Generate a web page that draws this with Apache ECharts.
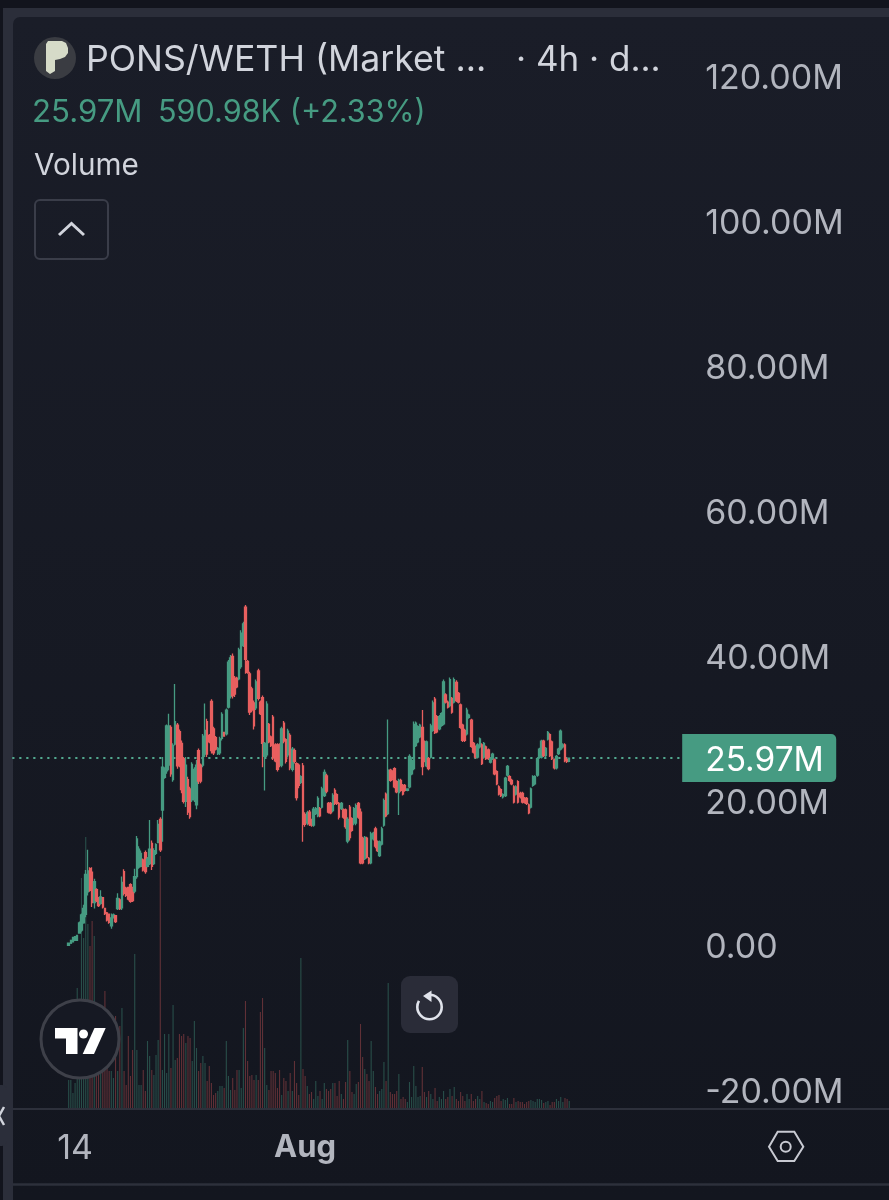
<!DOCTYPE html>
<html><head><meta charset="utf-8">
<style>html,body{margin:0;padding:0;background:#12141d}#c{width:889px;height:1200px}</style>
<script src="https://cdn.jsdelivr.net/npm/echarts@6/dist/echarts.min.js"></script>
</head><body><div id="c"></div>
<script>
const opens=[.1,.4,.6,.8,.8,1.8,2.2,3.2,4.4,7.5,10.7,10.2,6,7.8,6.6,5.9,6.7,5.2,4.6,4.4,2.8,3.9,4.2,5.2,6.4,5.3,10.3,8,8.1,8.5,8,7.6,9.6,10.9,11,11.9,12.9,11,11.4,14.2,11.4,12.8,14.3,17.5,18.8,23.3,24.2,25,30.2,23,27.9,30.5,29.6,28,25.9,20,23,21.7,20.2,20.2,19.5,27,25,25,26.5,31,29.1,33.8,30,28.8,26.6,26.7,28.7,29.5,29.3,33,34.5,40,37,37,36.9,38.6,41.5,46.8,39.3,37.6,35.5,33.6,32.9,38,33.7,34.3,26.2,26.4,30.6,28.9,31.6,27.8,27.8,27.8,25,30.8,28.5,26.4,29.1,24.4,27,25.2,25,22.6,24.9,18.2,17,18.5,17.4,16.7,18.3,18,19,19.2,20.8,23.5,19.7,19.7,18.7,21.5,20.9,19.7,19,18.8,18.8,14.5,19.2,17.6,17,17,19.7,18.5,14.9,12.1,14.9,12.1,11.5,14.8,16.2,14.4,12.5,14.1,16.7,21,18.3,24.3,24.1,24.5,22.7,21.2,22.9,22.2,22.2,21.5,22,23.8,24.5,27.7,28.2,28.9,30.2,28.2,24.9,25.9,26.1,29.8,34.1,31.7,30,30.5,30.7,34.7,33.7,33.2,34.2,33.7,36.4,34.9,33.3,30.5,29.8,29.3,31.6,31.2,28,27.5,26.1,27.5,27.8,26.1,27.5,27.1,25.4,25.9,25.7,24.1,22,21.6,20.6,20.8,23.6,23.4,22.9,22,21,22.7,21.1,21.1,20.4,20.4,19.5,19.2,22.2,22.4,23.6,26.1,26.1,28.3,26.3,28.6,29.2,28.2,25.7,24.6,26.6,27.2,27.5,27.8,25.8,25.5];
const closes=[.4,.8,1.2,1.3,1.5,3.2,4.3,5.2,9.9,10.4,7.7,6,8.9,6.3,5.6,6.8,5.4,4.5,3.6,3.3,3.9,4.3,3.4,6.6,5.2,8.8,7.3,7,6.5,6.2,6.3,9.6,14.8,13.4,12.8,10.5,10.3,12,13.4,11,13.2,14,16.8,13.3,24.7,24.5,30.4,30.4,23.8,27.7,31,24.9,25,21.6,20,25,18.5,17.9,25.1,24.4,25,22.8,22.8,29,29.8,26.5,28.2,27,26.7,27.2,27.3,28.6,32,29,32.6,39.2,39.8,34.6,34.8,35.8,40.9,43.2,44.5,39.6,37.8,32.3,32.6,30.4,36.5,34.2,32.1,28,28,33.4,28.2,27.7,26,25.6,24.4,25,30,28.3,25.5,29.7,24.6,27.2,25.5,20.5,22.2,23.4,16.8,16.8,18.4,16.9,16.7,18.9,19,20.4,18,21.7,24,21.4,18.5,18.4,20.8,19.7,19.7,17.8,19.7,17.8,16.5,17.5,15,16,19,19.4,17.8,11.5,11.5,15,12.3,11.5,15.5,15.6,13.8,13.2,14.4,16.2,20.1,18,24.3,22.9,23.1,22,21.3,22.9,21.5,21,21.5,21.7,26.2,25.6,30.6,30.8,30.3,30.5,24.8,25.6,28.2,24.5,30.4,33.6,29.5,29.6,31.7,32.1,36.5,33.7,33,36.8,32.3,36.8,33.9,33.7,30.2,28.4,28.4,32.6,31.9,27.6,26.8,26.1,27.8,28.6,25.2,28,25.9,25.9,25.9,26.5,23.8,22.4,21,20.8,20.9,23.2,24.8,22.9,22.4,19.9,22,19.9,20.6,19.9,19.9,19.7,18.4,21.7,23.4,23.4,25.9,27.2,28.3,26.3,27.3,29.5,26.3,25.9,24.6,26.2,27.2,29.7,27.8,25.6,25.5,25.97];
const highs=[.4,.8,1.3,1.4,1.5,3.4,4.5,5.7,10.5,13.3,10.9,10.9,9.3,8,6.8,7.7,6.8,5.2,4.7,4.5,4.5,4.5,4.3,7.3,6.6,9.6,10.6,8.2,8.2,8.7,8.2,10.7,15.2,13.8,13.2,12.1,13.2,12.3,17.4,14.6,13.5,14.2,17.4,17.8,26.1,24.7,30.6,32.1,30.5,28,36.2,30.8,29.9,28.4,26.1,26.1,23.4,22,25.4,24.7,25.7,27.3,25.2,29.3,33.5,31.4,29.3,34.1,30.3,29,27.5,28.9,32.3,29.6,32.8,39.5,40.2,40.4,37.3,37.2,41.2,43.6,44.8,47.1,39.5,37.9,35.8,33.9,36.8,38.3,33.9,34.6,28.2,33.8,30.8,29.1,31.9,28,28,28,30.3,31.1,28.7,30,29.4,27.5,27.3,25.4,25.2,23.6,25.3,18.5,18.7,18.8,17.6,19.2,19.2,20.7,19.2,22,24.4,23.8,19.9,19.9,21.1,21.8,21.1,19.9,19.9,19,19,17.8,19.5,17.8,19.2,19.7,19.9,19,15.1,15.2,15.1,12.3,15.8,15.8,16.5,14.6,14.6,16.5,20.4,21.2,31.3,24.5,24.3,24.7,22.9,23.1,23.1,22.4,22.4,21.8,26.5,25.9,31,31,30.5,30.7,32.6,28.4,28.4,26.1,30.7,33.9,34.4,31.9,31.9,32.3,36.8,34.9,33.9,37.1,34.4,37.1,36.7,35.1,33.5,30.7,30,32.9,32.1,31.4,28.2,27.7,28,28.8,28,28.2,27.7,27.3,26.1,26.7,25.9,24.3,22.2,21.8,21.1,23.4,25,23.6,23.1,22.2,22.2,22.9,21.3,21.3,20.6,20.6,19.7,21.9,23.6,23.6,26.1,27.4,28.5,28.5,27.5,29.7,29.4,28.4,25.9,26.4,27.4,29.9,28,28,26,26];
const lows=[.1,.4,.5,.7,.7,1.7,2,3.1,4,7,7.5,5.4,5.2,6.1,5.4,5.7,5.2,4.3,3.4,3.1,2.4,3.8,3.2,5,5,5,7,6.8,6.3,6,6.1,7.3,9.3,10.7,10.9,10.3,10,10.9,11.2,10.5,11.2,12.6,14.2,13,14.4,23.1,23.8,24.3,23.4,22.7,27.7,24.5,24.7,21.1,19.7,19.2,18.1,17.6,19.9,19.9,18.9,22.4,22.5,24.7,26.1,26.1,28,26.6,26.4,27,26.4,26.4,28.4,28.9,29.1,32.8,34.2,34.2,34.4,35.6,36.7,38.3,41.3,37.6,37.6,31.9,32.3,29.9,32.6,33.9,31.9,24.7,21.5,26.1,28,27.5,25.7,25.4,24.1,24.7,24.7,28,25.2,26.1,24.3,24.1,25.2,20.1,21.8,22.4,14.4,16.5,16.7,16.6,16.5,16.5,18.1,17.8,17.8,19,20.6,21.1,18.3,18.2,18.5,19.5,19.5,17.5,18.8,17.6,16.2,14.2,14.6,15.8,16.7,16.7,17.6,11.3,11.3,11.9,12.1,11.3,11.3,14.6,13.5,13,12.3,13.9,16.5,17.8,18.1,22.7,22.9,21.8,21.1,18.1,21.3,20.8,21.3,21.4,21.8,23.6,24.3,27.5,28,28.7,23.6,25.4,24.7,24.3,25.9,29.6,29.3,29.4,29.8,30.3,30.5,33.5,32.8,33,32.1,33.5,33.7,33.5,30,28.2,28.2,29.1,31.4,27.4,26.6,25.9,25.9,27.3,25,25.9,25.7,25.7,25.2,25.7,23.6,22.2,20.8,20.6,20.4,20.6,23.4,22.7,22.2,19.7,20.8,19.7,20.4,19.7,19.7,19.5,18.2,19,22,22.2,23.4,25.9,25.9,26.1,26.1,28.4,26.1,25.7,24.4,24.4,26.4,27,27.3,25.4,25.3,25.4];
const volumes=[28,28,15,25,120,30,230,170,271,184,162,187,172,60,40,35,40,117,40,37,37,30,92,37,82,100,
37,23,72,32,58,154,58,23,23,38,17,67,52,38,33,53,68,252,38,74,35,74,40,103,48,50,74,72,74,65,72,70,47,87,60,37,45,52,45,27,42,25,13,15,17,22,22,20,67,32,18,30,18,38,38,20,80,107,47,32,33,28,33,28,96,110,60,23,18,37,37,35,20,38,13,30,27,17,35,17,47,25,13,
150,39,32,22,14,16,9,27,12,17,9,25,19,17,19,25,25,12,27,14,9,26,68,37,16,14,24,26,84,51,39,34,27,67,37,21,14,17,19,46,27,125,16,14,14,17,34,9,11,9,6,26,11,42,22,11,12,41,16,11,17,14,9,20,7,11,9,17,9,11,19,12,21,9,7,16,12,7,14,9,14,7,9,12,9,17,6,5,4,7,6,10,12,13,7,9,8,10,4,4,10,6,7,6,6,4,6,7,8,7,6,9,9,8,5,6,7,3,6,6,9,7,11,6,10,9,7];
const yTicks=['-20.00M','0.00','20.00M','40.00M','60.00M','80.00M','100.00M','120.00M'];
const lastPrice=25.97;
const leadEmpty=26, trailEmpty=53;
const timeLabels={3:'14',111:'Aug'};

const UP='#469b82', DOWN='#e85f5f', FONT='Inter, Roboto, sans-serif';
const n=opens.length;
const cats=[];
for(let i=-leadEmpty;i<n+trailEmpty;i++) cats.push(timeLabels[i]||'');
const blanks=k=>Array(k).fill('-');
const candle=[...Array(leadEmpty).fill(['-','-','-','-']),...opens.map((o,i)=>[o,closes[i],lows[i],highs[i]])];
const vol=[...blanks(leadEmpty),...volumes.map((v,i)=>({value:v,itemStyle:{color:closes[i]>=opens[i]?'rgba(70,155,130,0.42)':'rgba(232,95,95,0.36)'}}))];

const txt=(x,y,t,size,fill,extra)=>({type:'text',z:100,x,y,style:Object.assign({text:t,font:`400 ${size}px ${FONT}`,fill,verticalAlign:'middle',align:'left'},extra||{})});
const line=(x1,y1,x2,y2,c,w)=>({type:'line',z:1,shape:{x1,y1,x2,y2},style:{stroke:c,lineWidth:w}});
const poly=(pts,st,z)=>({type:'polygon',z:z||100,shape:{points:pts},style:st});
const BAND='#2b2e3a';
const graphic=[
 {type:'rect',z:-3,shape:{x:0,y:8,width:889,height:1192},style:{fill:BAND}},
 {type:'rect',z:-3,shape:{x:0,y:8,width:3,height:1192},style:{fill:'#12141d'}},
 {type:'rect',z:-2,shape:{x:13,y:17,width:876,height:1183,r:[7,0,0,0]},style:{fill:{type:'linear',x:0,y:0,x2:0,y2:1,colorStops:[{offset:0,color:'#1a1d28'},{offset:1,color:'#13161f'}]}}},
 line(13,1109,889,1109,'#2d303b',2),
 line(13,1184.5,889,1184.5,'#2d303b',2.5),
 {type:'rect',z:5,shape:{x:-8,y:1085,width:15,height:61,r:5},style:{fill:BAND}},
 {type:'polyline',z:6,shape:{points:[[4,1107],[-1,1116],[4,1125]]},style:{stroke:'#d1d4dc',lineWidth:2.5,fill:'none'}},
 {type:'circle',z:100,shape:{cx:55,cy:58,r:21},style:{fill:'#3a3c42'}},
 poly([[46,44],[48,41],[62,41],[66,43],[68,48],[68,53],[65,57],[60,59],[55,60],[55,71],[50,74],[46,71]],{fill:'#d6dbc8'},101),
 txt(86,60,'PONS/WETH (Market ...',35.7,'#d1d4dc'),
 txt(516,60,'· 4h · d...',35,'#d1d4dc'),
 txt(32,113,'25.97M',31.2,UP),
 txt(158,113,'590.98K (+2.33%)',30.6,UP),
 txt(34,166,'Volume',29.7,'#d1d4dc'),
 {type:'rect',z:100,shape:{x:35,y:200,width:73,height:59,r:5},style:{fill:'transparent',stroke:'#3a3d49',lineWidth:2}},
 {type:'polyline',z:100,shape:{points:[[59,235],[71.5,223.5],[84,235]]},style:{stroke:'#d1d4dc',lineWidth:3,fill:'none'}},
 {type:'circle',z:100,shape:{cx:80,cy:1039,r:39},style:{fill:'#161923',stroke:'#3e4049',lineWidth:3}},
 poly([[55,1028],[77.5,1028],[77.5,1054],[66,1054],[66,1038.5],[55,1038.5]],{fill:'#fff'},101),
 {type:'circle',z:101,shape:{cx:83.5,cy:1034,r:4.5},style:{fill:'#fff'}},
 poly([[94.5,1028],[105.7,1028],[94,1054],[82.7,1054]],{fill:'#fff'},101),
 {type:'rect',z:100,shape:{x:401,y:976,width:57,height:57,r:9},style:{fill:'#2a2c38'}},
 {type:'arc',z:101,shape:{cx:429.5,cy:1007,r:12.2,startAngle:-Math.PI/2,endAngle:Math.PI*7/6,clockwise:true},style:{stroke:'#e0e3eb',lineWidth:2.6,fill:'none'}},
 poly([[423,996],[431.5,990.5],[431.5,1002]],{fill:'#e0e3eb'},102),
 poly([[769,1146.7],[777.7,1131.7],[794.3,1131.7],[803.3,1146.7],[794.3,1161],[777.7,1161]],{fill:'none',stroke:'#c8cad2',lineWidth:2}),
 {type:'circle',z:100,shape:{cx:785.7,cy:1146.7,r:5},style:{fill:'none',stroke:'#c8cad2',lineWidth:2}}
];
const gridLeft=12.25, gridW=670.95;
const chart=echarts.init(document.getElementById('c'),null,{renderer:'canvas'});
chart.setOption({
 animation:false,
 backgroundColor:'transparent',
 graphic:{elements:graphic},
 grid:[{left:gridLeft,top:77,width:gridW,height:1014},{left:gridLeft,top:827,width:gridW,height:281}],
 xAxis:[
  {type:'category',gridIndex:0,data:cats,axisLine:{show:false},axisTick:{show:false},axisLabel:{show:false},splitLine:{show:false}},
  {type:'category',gridIndex:1,data:cats,axisLine:{show:false},axisTick:{show:false},splitLine:{show:false},
   axisLabel:{interval:(i,v)=>v!=='',margin:24,formatter:v=>v==='Aug'?'{b|Aug}':'{n|'+v+'}',
    rich:{b:{fontFamily:FONT,fontWeight:700,fontSize:31,color:'#b2b5be'},n:{fontFamily:FONT,fontSize:34,color:'#b2b5be'}}}}
 ],
 yAxis:[
  {type:'value',gridIndex:0,position:'right',min:-20,max:120,interval:20,splitLine:{show:false},axisLine:{show:false},axisTick:{show:false},
   axisLabel:{margin:22,align:'left',formatter:v=>'{a|'+yTicks[(v+20)/20]+'}',
    rich:{a:{color:'#b2b5be',fontFamily:FONT,fontSize:34,lineHeight:40,padding:[4,0,0,0]}}}},
  {type:'value',gridIndex:1,min:0,max:281,show:false,splitLine:{show:false}}
 ],
 series:[
  {type:'bar',xAxisIndex:1,yAxisIndex:1,data:vol,barWidth:1.1,z:1,silent:true},
  {type:'candlestick',xAxisIndex:0,yAxisIndex:0,data:candle,barWidth:2,z:3,
   itemStyle:{color:UP,color0:DOWN,borderColor:UP,borderColor0:DOWN,borderWidth:1.3},
   markLine:{silent:true,symbol:'none',z:2,precision:2,
    lineStyle:{color:'#52a88f',type:[2.2,4.8],width:2.2},
    label:{show:true,position:'end',distance:-1,formatter:'{t|25.97M}',backgroundColor:UP,borderRadius:[0,5,5,0],
      padding:[0,0,0,0],rich:{t:{fontFamily:FONT,fontSize:33.5,color:'#fff',width:131,height:48,lineHeight:48,align:'left',padding:[5,0,0,23]}}},
    data:[{yAxis:lastPrice}]}}
 ]
});
</script></body></html>
